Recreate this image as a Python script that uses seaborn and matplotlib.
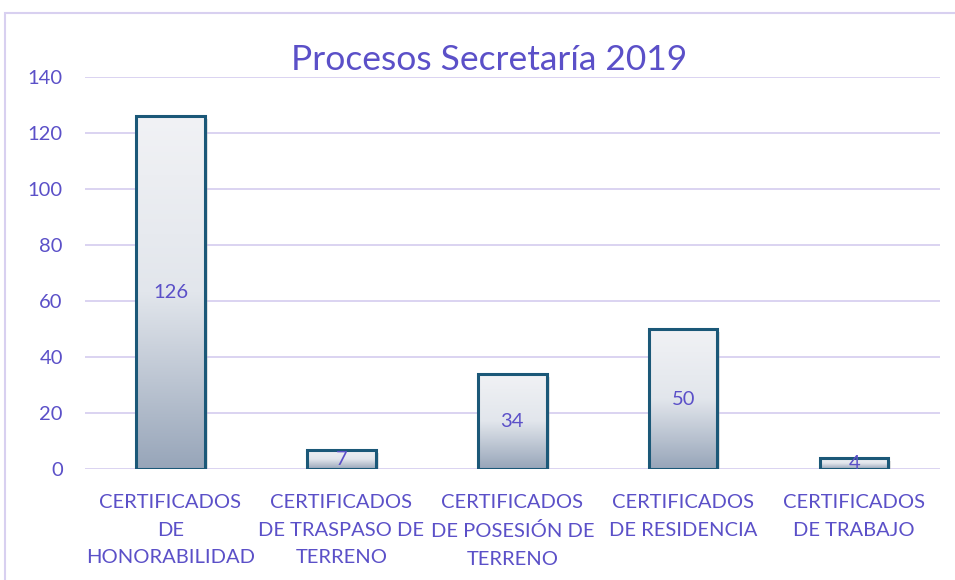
import numpy as np
import pandas as pd
import matplotlib
matplotlib.use("Agg")
import matplotlib.pyplot as plt
from matplotlib.colors import LinearSegmentedColormap
from matplotlib.patches import Rectangle
from matplotlib.transforms import ScaledTranslation
import seaborn as sns

# Chart data
categories = ["CERTIFICADOS\nDE\nHONORABILIDAD",
              "CERTIFICADOS\nDE TRASPASO DE\nTERRENO",
              "CERTIFICADOS\nDE POSESIÓN DE\nTERRENO",
              "CERTIFICADOS\nDE RESIDENCIA",
              "CERTIFICADOS\nDE TRABAJO"]
values = [126, 7, 34, 50, 4]
yticks = [0, 20, 40, 60, 80, 100, 120, 140]

text_color = "#5b50c8"
grid_color = "#d8d0f0"
edge_color = "#1b5878"

sns.set_style("white")
plt.rcParams['font.family'] = ['Lato', 'DejaVu Sans']

df = pd.DataFrame({"cat": categories, "val": values})

fig = plt.figure(figsize=(9.55, 5.8), dpi=100)
ax = fig.add_axes([0.089, 0.191, 0.895, 0.676])

sns.barplot(data=df, x="cat", y="val", width=0.40, ax=ax,
            facecolor="none", edgecolor=edge_color, linewidth=2.2, zorder=3)

# gradient fill inside each bar (light at top, blue-grey at bottom)
grad_cmap = LinearSegmentedColormap.from_list("bar", ["#f1f2f5", "#e2e6ec", "#97a5b9"])
grad = np.linspace(0, 1, 256).reshape(-1, 1)
shadow_tr = ax.transData + ScaledTranslation(3 / 100, -3 / 100, fig.dpi_scale_trans)
for p in ax.patches[:]:
    x0, y0 = p.get_x(), p.get_y()
    w, h = p.get_width(), p.get_height()
    im = ax.imshow(grad, cmap=grad_cmap, aspect="auto", vmin=0, vmax=1,
                   extent=[x0, x0 + w, y0, y0 + h], origin="upper", zorder=2)
    im.set_clip_path(p)
    ax.add_patch(Rectangle((x0, y0), w, h, transform=shadow_tr, facecolor="#b0b0b0",
                           edgecolor="none", alpha=0.35, zorder=1.5))

for i, v in enumerate(values):
    ax.text(i, v / 2, str(v), ha="center", va="center", color=text_color,
            fontsize=14.5, zorder=5)

ax.set_xlim(-0.5, len(values) - 0.5)
ax.set_ylim(0, 140)
ax.set_yticks(yticks)
ax.yaxis.grid(True, color=grid_color, linewidth=1.3, zorder=0)
ax.set_axisbelow(True)
for s in ax.spines.values():
    s.set_visible(False)
ax.tick_params(axis="both", length=0, colors=text_color, labelsize=14.5)
ax.tick_params(axis="x", pad=18)
ax.tick_params(axis="y", pad=16)
ax.set_xlabel("")
ax.set_ylabel("")
for lbl in ax.get_xticklabels():
    lbl.set_linespacing(1.75)

fig.text(0.512, 0.897, "Procesos Secretaría 2019", ha="center", va="center",
         color=text_color, fontsize=25.5)

# outer chart border
fig.patches.append(Rectangle((0.005, -0.05), 1.2, 1.028, transform=fig.transFigure,
                             fill=False, edgecolor=grid_color, linewidth=1.5))

fig.savefig("out.png", dpi=100, facecolor="white")
